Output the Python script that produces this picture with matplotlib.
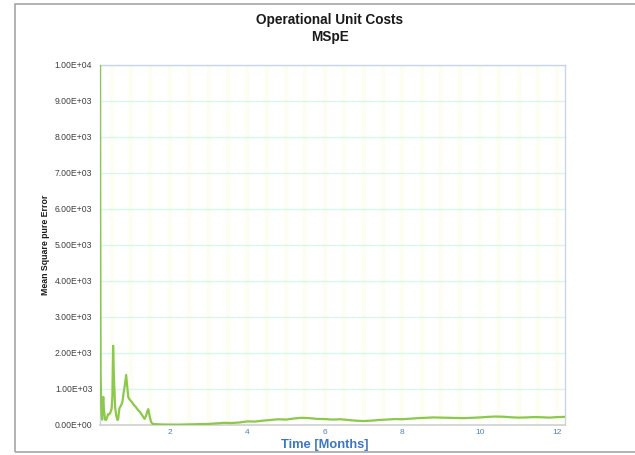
import matplotlib
matplotlib.use("Agg")
import matplotlib.pyplot as plt
from matplotlib.patches import Rectangle
from matplotlib.ticker import FuncFormatter

plt.rcParams['font.family'] = ['Liberation Sans', 'DejaVu Sans']

# Data (months, MSpE)
months = [0.20, 0.205, 0.215, 0.226, 0.24, 0.255, 0.27, 0.285, 0.30, 0.33, 0.356, 0.38,
          0.408, 0.44, 0.47, 0.50, 0.52, 0.538, 0.56, 0.59, 0.62, 0.65, 0.668, 0.70,
          0.75, 0.78, 0.81, 0.84, 0.875, 0.90, 0.93, 0.97, 1.02, 1.07, 1.11, 1.17,
          1.24, 1.30, 1.35, 1.39, 1.42, 1.447, 1.48, 1.52, 1.56, 1.6, 1.8, 2.0,
          2.2, 2.4, 2.6, 2.8, 3.0, 3.2, 3.4, 3.6, 3.8, 4.0, 4.2, 4.4, 4.6, 4.8,
          5.0, 5.2, 5.4, 5.6, 5.8, 6.0, 6.2, 6.4, 6.6, 6.8, 7.0, 7.2, 7.4, 7.6,
          7.8, 8.0, 8.2, 8.4, 8.6, 8.8, 9.0, 9.2, 9.4, 9.6, 9.8, 10.0, 10.2, 10.4,
          10.6, 10.8, 11.0, 11.2, 11.4, 11.6, 11.8, 12.0, 12.2]
mspe = [10500, 6000, 1500, 790, 300, 150, 600, 780, 450, 150, 140, 200,
        300, 300, 350, 450, 800, 2200, 1300, 500, 250, 140, 160, 460,
        560, 650, 900, 1100, 1390, 1100, 770, 700, 640, 560, 520, 430,
        350, 250, 170, 260, 380, 440, 250, 80, 30, 25, 15, 12,
        10, 15, 20, 25, 30, 45, 60, 55, 70, 100, 95, 120, 140, 160,
        150, 180, 200, 190, 170, 165, 150, 160, 140, 120, 110, 120, 140, 150,
        165, 160, 175, 190, 200, 210, 205, 200, 195, 190, 200, 210, 225, 235,
        230, 215, 205, 210, 220, 215, 205, 220, 225]

xticks = [2, 4, 6, 8, 10, 12]
yticks = [0, 1000, 2000, 3000, 4000, 5000, 6000, 7000, 8000, 9000, 10000]

fig = plt.figure(figsize=(6.35, 4.55), dpi=100)
fig.patch.set_facecolor('white')

# outer chart frame
fig.patches.append(Rectangle((15/635, 1-452/455), 1.0, (452-4)/455,
                             transform=fig.transFigure, fill=False,
                             edgecolor='#a6a6a6', linewidth=1.2))

ax = fig.add_axes([100/635, 1-425/455, 465/635, 360/455])
ax.set_xlim(0.2, 12.2)
ax.set_ylim(0, 10000)

# faint vertical bands
for v in [0.5 * i for i in range(1, 25)]:
    ax.axvline(v, color='#fefdf2', linewidth=3, zorder=0)
for y in yticks[1:]:
    ax.axhline(y, color='#daf5ec', linewidth=1.0, zorder=1)

ax.plot(months, mspe, color='#8cc84b', linewidth=1.6, zorder=3, clip_on=True)

ax.set_xticks(xticks)
ax.set_yticks(yticks)
ax.yaxis.set_major_formatter(FuncFormatter(lambda v, p: "%.2E" % v))
ax.tick_params(axis='both', length=0)
ax.tick_params(axis='y', labelsize=6.2, labelcolor='#404040', pad=5.5)
ax.tick_params(axis='x', labelsize=6, labelcolor='#4f81bd', pad=3)

for s in ['top', 'right', 'left']:
    ax.spines[s].set_color('#c8d6e6')
    ax.spines[s].set_linewidth(1.0)
ax.spines['bottom'].set_color('#d0d0d0')
ax.spines['bottom'].set_linewidth(1.2)

fig.text(330/635, 1-20/455, 'Operational Unit Costs', ha='center', va='center',
         fontsize=9.8, fontweight='bold', color='#1a1a1a')
fig.text(330/635, 1-37/455, 'MSpE', ha='center', va='center',
         fontsize=9.8, fontweight='bold', color='#1a1a1a')
fig.text(45/635, 1-245/455, 'Mean Square pure Error', rotation=90, ha='center',
         va='center', fontsize=6.3, fontweight='bold', color='#1a1a1a')
fig.text(325/635, 1-445/455, 'Time [Months]', ha='center', va='center',
         fontsize=9.3, fontweight='bold', color='#3a78c0')

fig.savefig('out.png', dpi=100)
